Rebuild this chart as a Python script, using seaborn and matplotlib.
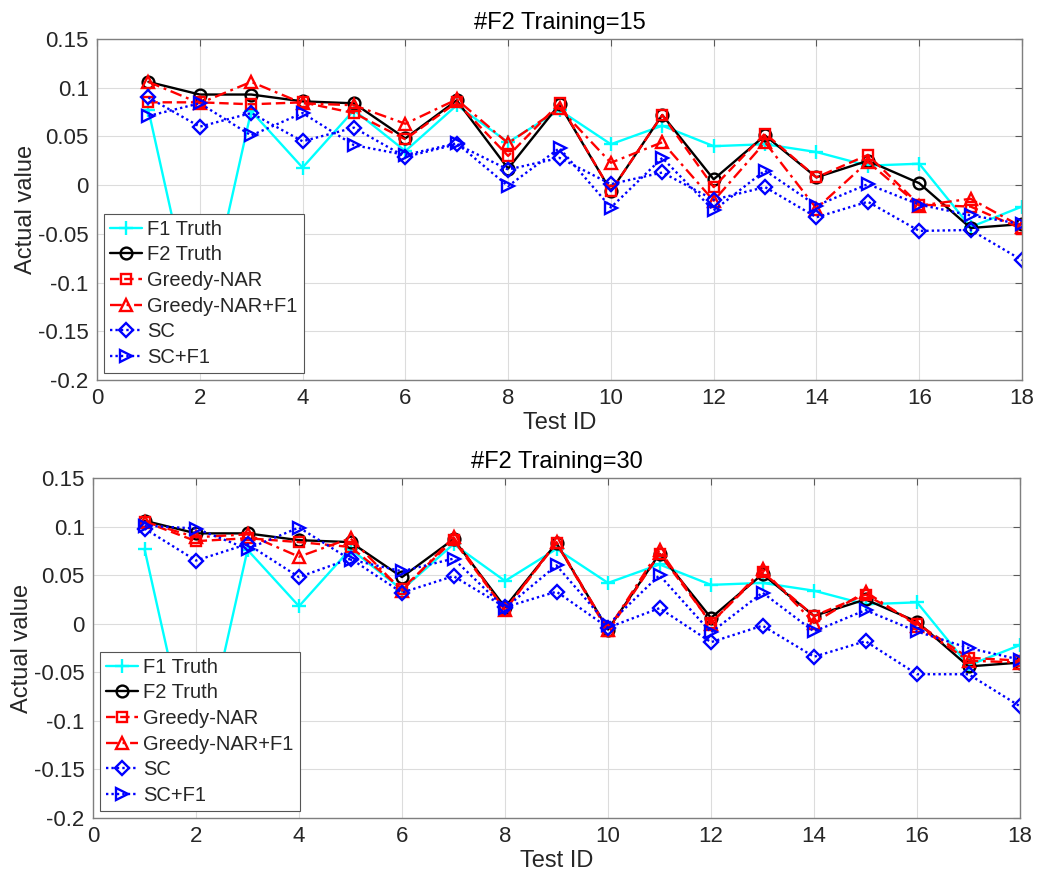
import numpy as np
import pandas as pd
import matplotlib
matplotlib.use("Agg")
import matplotlib.pyplot as plt
import seaborn as sns

# ---------------- data ----------------
test_id = list(range(1, 19))

f1_truth = [0.077, -0.160, 0.076, 0.018, 0.077, 0.035, 0.082, 0.044, 0.077,
            0.042, 0.061, 0.040, 0.042, 0.034, 0.020, 0.022, -0.043, -0.022]
f2_truth = [0.106, 0.093, 0.093, 0.086, 0.084, 0.048, 0.087, 0.017, 0.083,
            -0.006, 0.072, 0.006, 0.051, 0.008, 0.025, 0.002, -0.044, -0.040]

# #F2 Training = 15
greedy_15 = [0.085, 0.085, 0.083, 0.085, 0.074, 0.047, 0.085, 0.030, 0.084,
             -0.006, 0.072, -0.002, 0.053, 0.008, 0.031, -0.020, -0.022, -0.045]
greedy_f1_15 = [0.106, 0.084, 0.106, 0.084, 0.082, 0.063, 0.088, 0.043, 0.079,
                0.023, 0.044, -0.016, 0.044, -0.024, 0.024, -0.021, -0.014, -0.043]
sc_15 = [0.090, 0.060, 0.074, 0.045, 0.059, 0.029, 0.042, 0.016, 0.028,
         0.001, 0.013, -0.015, -0.002, -0.033, -0.017, -0.047, -0.046, -0.077]
sc_f1_15 = [0.071, 0.084, 0.051, 0.074, 0.041, 0.031, 0.043, -0.001, 0.038,
            -0.023, 0.028, -0.026, 0.015, -0.021, 0.001, -0.020, -0.031, -0.040]

# #F2 Training = 30
greedy_30 = [0.105, 0.085, 0.088, 0.084, 0.079, 0.036, 0.086, 0.014, 0.083,
             -0.008, 0.072, 0.001, 0.053, 0.008, 0.030, 0.000, -0.035, -0.038]
greedy_f1_30 = [0.105, 0.089, 0.092, 0.069, 0.088, 0.034, 0.089, 0.014, 0.084,
                -0.006, 0.076, 0.000, 0.056, 0.001, 0.033, -0.002, -0.038, -0.040]
sc_30 = [0.098, 0.065, 0.082, 0.048, 0.067, 0.032, 0.049, 0.017, 0.033,
         -0.004, 0.016, -0.019, -0.002, -0.034, -0.018, -0.052, -0.052, -0.085]
sc_f1_30 = [0.101, 0.098, 0.077, 0.099, 0.066, 0.054, 0.067, 0.016, 0.060,
            -0.001, 0.050, -0.009, 0.032, -0.008, 0.014, -0.008, -0.025, -0.037]

series_names = ["F1 Truth", "F2 Truth", "Greedy-NAR", "Greedy-NAR+F1", "SC", "SC+F1"]
titles = ["#F2 Training=15", "#F2 Training=30"]
x_ticks = list(range(0, 19, 2))
y_ticks = [-0.2, -0.15, -0.1, -0.05, 0, 0.05, 0.1, 0.15]
y_ticklabels = ["-0.2", "-0.15", "-0.1", "-0.05", "0", "0.05", "0.1", "0.15"]

panels = [
    [f1_truth, f2_truth, greedy_15, greedy_f1_15, sc_15, sc_f1_15],
    [f1_truth, f2_truth, greedy_30, greedy_f1_30, sc_30, sc_f1_30],
]

styles = {
    "F1 Truth": dict(color=(0, 1, 1), marker="+", linestyle="-"),
    "F2 Truth": dict(color="black", marker="o", linestyle="-"),
    "Greedy-NAR": dict(color=(1, 0, 0), marker="s", linestyle=(0, (4, 2))),
    "Greedy-NAR+F1": dict(color=(1, 0, 0), marker="^", linestyle=(0, (5, 2, 1.2, 2))),
    "SC": dict(color=(0, 0, 1), marker="D", linestyle=(0, (1, 1.3))),
    "SC+F1": dict(color=(0, 0, 1), marker=">", linestyle=(0, (1, 1.3))),
}
msize = {"F1 Truth": 10, "F2 Truth": 8.5, "Greedy-NAR": 7, "Greedy-NAR+F1": 9,
         "SC": 6.8, "SC+F1": 9}

# ---------------- style ----------------
sns.set_theme(style="white")
plt.rcParams["font.family"] = ["Liberation Sans", "DejaVu Sans"]
plt.rcParams["axes.unicode_minus"] = False

fig = plt.figure(figsize=(10.38, 8.82), dpi=100)
ax_rects = [
    [97 / 1038, 1 - 380 / 882, 925 / 1038, 341 / 882],
    [93 / 1038, 1 - 818 / 882, 927 / 1038, 340 / 882],
]

txt_color = "#262626"
for rect, title, vals in zip(ax_rects, titles, panels):
    ax = fig.add_axes(rect)
    for name, v in zip(series_names, vals):
        df = pd.DataFrame({"Test ID": test_id, "value": v})
        st = styles[name]
        sns.lineplot(data=df, x="Test ID", y="value", ax=ax, label=name,
                     color=st["color"], marker=st["marker"],
                     linestyle=st["linestyle"], linewidth=1.7,
                     markersize=msize[name], markerfacecolor="none",
                     markeredgecolor=st["color"], markeredgewidth=1.7,
                     errorbar=None, sort=False, legend=False)
    ax.set_xlim(0, 18)
    ax.set_ylim(-0.2, 0.15)
    ax.set_xticks(x_ticks)
    ax.set_yticks(y_ticks)
    ax.set_yticklabels(y_ticklabels)
    ax.grid(True, color="#dcdcdc", linewidth=0.8)
    ax.set_axisbelow(True)
    for sp in ax.spines.values():
        sp.set_color("#7f7f7f")
        sp.set_linewidth(1.0)
    ax.tick_params(direction="in", top=True, right=True, length=5, width=0.8,
                   color="#5a5a5a", labelsize=16, labelcolor=txt_color, pad=6)
    ax.set_xlabel("Test ID", fontsize=17, color=txt_color, labelpad=2)
    ax.set_ylabel("Actual value", fontsize=17, color=txt_color, labelpad=1)
    ax.set_title(title, fontsize=17, color="black", pad=7)
    leg = ax.legend(loc="lower left", fontsize=14.5, frameon=True, fancybox=False,
                    edgecolor="#555555", framealpha=1, borderaxespad=0.35,
                    handlelength=1.6, handletextpad=0.25, labelspacing=0.33,
                    borderpad=0.3)
    leg.get_frame().set_linewidth(0.8)

fig.savefig("out.png", dpi=100)
